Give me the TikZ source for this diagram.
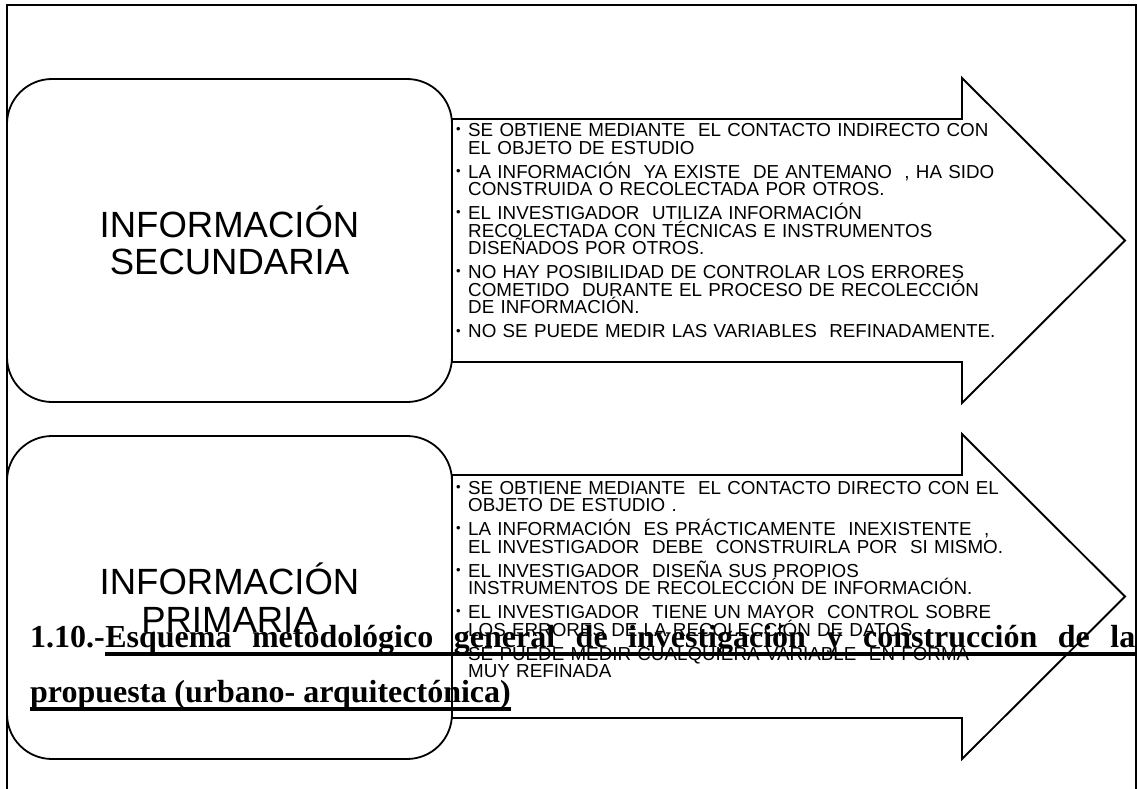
\documentclass[tikz,border=0pt]{standalone}
\usepackage{fontspec}
\setmainfont{Liberation Serif}
\newfontfamily\arialfont{Liberation Sans}
\newcommand\bitem{\par\hangindent=12pt\hangafter=1\noindent\makebox[12pt][l]{\raisebox{3pt}{\fontsize{13}{13}\selectfont\textbullet}}}
\newcommand\brk{\hfil\break}
\begin{document}
\begin{tikzpicture}[x=1pt,y=-1pt,
  infobox/.style={draw,line width=1.8pt,rounded corners=45pt,minimum width=445pt,minimum height=323pt,inner sep=0pt,align=center,font=\arialfont\fontsize{36.5}{37.5}\selectfont},
  bullets/.style={anchor=base west,inner sep=0pt,text width=620pt,align=left,font=\arialfont\fontsize{18.8}{17.5}\selectfont,execute at begin node={\setlength{\parskip}{6.5pt}\lineskiplimit=-50pt}},
  heading/.style={anchor=base west,inner sep=0pt,font=\bfseries\fontsize{32}{55}\selectfont},
  uline/.style={line width=4pt},
  shapeline/.style={line width=1.9pt}]
\useasboundingbox (0,0) rectangle (1137,789);
\draw[line width=1.3pt] (7,789) -- (7,5) -- (1136,5) -- (1136,789);
\node[infobox] (sec) at (229.5,240.5) {INFORMACIÓN\\SECUNDARIA};
\node[infobox] (prim) at (229.5,597.5) {INFORMACIÓN\\PRIMARIA};
\foreach \cy in {240.5,596.5}
  \draw[shapeline] (452,\cy-121.5) -- (962,\cy-121.5) -- (962,\cy-162.5) -- (1125,\cy) -- (962,\cy+162.5) -- (962,\cy+121.5) -- (452,\cy+121.5) -- cycle;
\node[bullets] (secitems) at (456,113) {\bitem SE OBTIENE MEDIANTE\ \ EL CONTACTO INDIRECTO CON\brk EL OBJETO DE ESTUDIO
\bitem LA INFORMACIÓN\ \ YA EXISTE\ \ DE ANTEMANO\ \ , HA SIDO\brk CONSTRUIDA O RECOLECTADA POR OTROS.
\bitem EL INVESTIGADOR\ \ UTILIZA INFORMACIÓN\brk RECOLECTADA CON TÉCNICAS E INSTRUMENTOS\brk DISEÑADOS POR OTROS.
\bitem NO HAY POSIBILIDAD DE CONTROLAR LOS ERRORES\brk COMETIDO\ \ DURANTE EL PROCESO DE RECOLECCIÓN\brk DE INFORMACIÓN.
\bitem NO SE PUEDE MEDIR LAS VARIABLES\ \ REFINADAMENTE.\par};
\node[bullets] (primitems) at (456,470) {\bitem SE OBTIENE MEDIANTE\ \ EL CONTACTO DIRECTO CON EL\brk OBJETO DE ESTUDIO .
\bitem LA INFORMACIÓN\ \ ES PRÁCTICAMENTE\ \ INEXISTENTE\ \ ,\brk EL INVESTIGADOR\ \ DEBE\ \ CONSTRUIRLA POR\ \ SI MISMO.
\bitem EL INVESTIGADOR\ \ DISEÑA SUS PROPIOS\brk INSTRUMENTOS DE RECOLECCIÓN DE INFORMACIÓN.
\bitem EL INVESTIGADOR\ \ TIENE UN MAYOR\ \ CONTROL SOBRE\brk LOS ERRORES DE LA RECOLECCIÓN DE DATOS
\bitem SE PUEDE MEDIR CUALQUIERA VARIABLE\ \ EN FORMA\brk MUY REFINADA\par};
\node[heading] (num) at (30,647) {1.10.-};
\node[heading] (line1) at (num.base east) {\hbox to 1030pt{Esquema\hfill metodológico\hfill general\hfill de\hfill investigación\hfill y\hfill construcción\hfill de\hfill la}};
\node[heading] (line2) at (30,702) {propuesta (urbano- arquitectónica)};
\draw[uline] ([yshift=-6.5pt]line1.base west) -- ([yshift=-6.5pt,xshift=2pt]line1.base east);
\draw[uline] ([yshift=-6.5pt]line2.base west) -- ([yshift=-6.5pt]line2.base east);
\end{tikzpicture}
\end{document}
